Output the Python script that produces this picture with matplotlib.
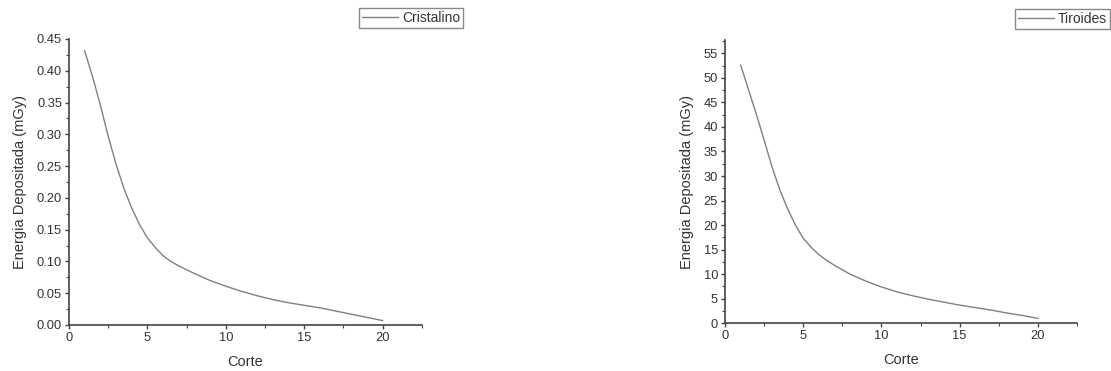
import matplotlib.pyplot as plt
from matplotlib.ticker import MultipleLocator, FormatStrFormatter

plt.rcParams['font.family'] = ['Liberation Sans', 'DejaVu Sans']

corte = [1, 1.5, 2, 2.5, 3, 3.5, 4, 4.5, 5, 5.5, 6, 6.5, 7, 8, 9, 10,
         11, 12, 13, 14, 15, 16, 17, 18, 19, 20]
cristalino = [0.431, 0.391, 0.346, 0.297, 0.253, 0.215, 0.184, 0.158, 0.137, 0.122,
              0.109, 0.100, 0.093, 0.081, 0.070, 0.061, 0.053, 0.046, 0.040, 0.035,
              0.031, 0.027, 0.022, 0.017, 0.012, 0.007]
tiroides = [52.6, 47.6, 42.6, 37.3, 31.9, 27.2, 23.3, 20.0, 17.3, 15.5,
            14.0, 12.8, 11.8, 10.0, 8.6, 7.4, 6.4, 5.6, 4.9, 4.3,
            3.7, 3.2, 2.7, 2.1, 1.6, 1.0]

txt = '#333333'
fig = plt.figure(figsize=(11.11, 3.71), dpi=100)


def panel(rect, y, label, ymax, ymaj, fmt, leg_anchor):
    ax = fig.add_axes(rect)
    ax.plot(corte, y, color='#808080', lw=1.0, label=label)
    ax.set_xlim(0, 22.5)
    ax.set_ylim(0, ymax)
    ax.xaxis.set_major_locator(MultipleLocator(5))
    ax.xaxis.set_minor_locator(MultipleLocator(2.5))
    ax.yaxis.set_major_locator(MultipleLocator(ymaj))
    ax.yaxis.set_minor_locator(MultipleLocator(ymaj / 2))
    ax.yaxis.set_major_formatter(FormatStrFormatter(fmt))
    for s in ['top', 'right']:
        ax.spines[s].set_visible(False)
    for s in ['left', 'bottom']:
        ax.spines[s].set_color('#444444')
        ax.spines[s].set_linewidth(1.2)
    ax.tick_params(which='major', direction='out', length=3, width=1, colors='#444444',
                   labelcolor=txt, labelsize=9.3, pad=2)
    ax.tick_params(which='minor', direction='out', length=2, width=0.8, colors='#444444')
    ax.set_xlabel('Corte', fontsize=10.5, color=txt, labelpad=8)
    ax.set_ylabel('Energia Depositada (mGy)', fontsize=10.5, color=txt, labelpad=7)
    leg = fig.legend(handles=ax.get_lines(), loc='upper right', bbox_to_anchor=leg_anchor,
                     fontsize=10, fancybox=False, framealpha=1, edgecolor='#888888',
                     handlelength=2.6, borderpad=0.2, borderaxespad=0, handletextpad=0.3)
    for t in leg.get_texts():
        t.set_color(txt)
    return ax


panel([0.0621, 0.124, 0.3175, 0.771], cristalino, 'Cristalino', 0.45, 0.05, '%.2f',
      (463 / 1111, 1 - 8 / 371))
panel([0.6526, 0.1286, 0.3168, 0.7634], tiroides, 'Tiroides', 57.7, 5, '%d',
      (1110 / 1111, 1 - 9 / 371))

fig.savefig('out.png', dpi=100)
